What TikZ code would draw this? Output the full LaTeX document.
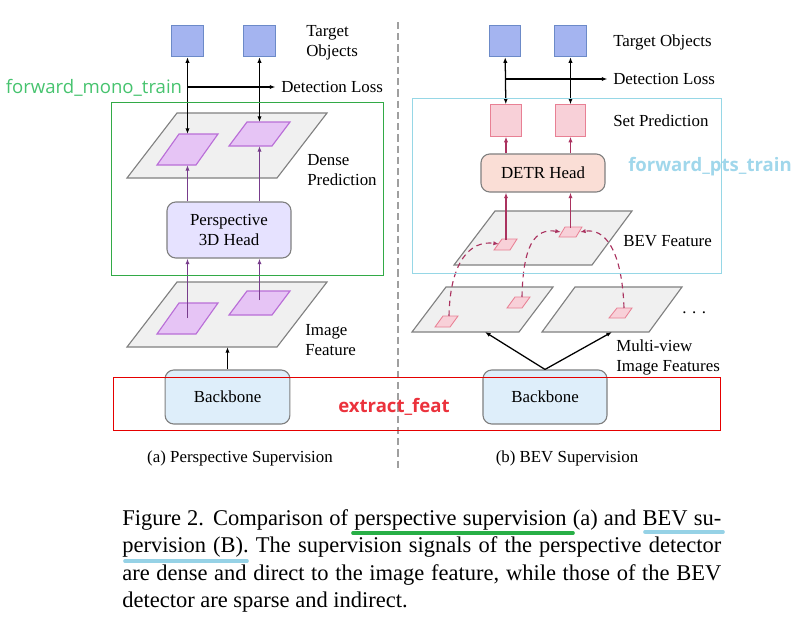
\documentclass[tikz,border=0pt]{standalone}
\usepackage{fontspec}
\setmainfont{Liberation Serif}
\newfontfamily\tagsans{Open Sans}
\usetikzlibrary{arrows.meta,positioning}

\definecolor{tgtfill}{RGB}{164,180,240}
\definecolor{tgtdraw}{RGB}{108,138,200}
\definecolor{planefill}{RGB}{240,240,240}
\definecolor{planedraw}{RGB}{128,128,128}
\definecolor{purfill}{RGB}{230,196,245}
\definecolor{purdraw}{RGB}{185,110,215}
\definecolor{purline}{RGB}{120,60,140}
\definecolor{headfill}{RGB}{230,226,255}
\definecolor{bonefill}{RGB}{222,238,250}
\definecolor{pinkfill}{RGB}{248,208,216}
\definecolor{pinkdraw}{RGB}{232,128,148}
\definecolor{pinkline}{RGB}{170,50,95}
\definecolor{detrfill}{RGB}{250,222,214}
\definecolor{monogreen}{RGB}{70,195,110}
\definecolor{boxgreen}{RGB}{50,170,70}
\definecolor{ptscyan}{RGB}{160,215,235}
\definecolor{boxcyan}{RGB}{150,215,230}
\definecolor{featred}{RGB}{235,50,60}
\definecolor{ulgreen}{RGB}{40,175,70}
\definecolor{ulblue}{RGB}{150,210,230}

\begin{document}
\begin{tikzpicture}[x=0.025cm, y=-0.025cm,
 >={Latex[length=4pt,width=3pt]},
 target/.style = {rectangle, draw=tgtdraw, fill=tgtfill, line width=0.8pt,
   minimum width=0.78cm, minimum height=0.78cm, inner sep=0pt},
 setpred/.style = {target, draw=pinkdraw, fill=pinkfill, minimum width=0.76cm},
 block/.style = {rectangle, rounded corners=0.22cm, draw=planedraw, line width=0.8pt,
   align=center, font=\fontsize{12}{14.2}\selectfont},
 lbl/.style = {anchor=west, align=left, inner sep=0pt, font=\fontsize{12}{14.2}\selectfont},
 plane/.style = {draw=planedraw, fill=planefill, line width=0.8pt},
 cell/.style = {draw=purdraw, fill=purfill, line width=0.8pt},
 bevcell/.style = {draw=pinkdraw, fill=pinkfill, line width=0.6pt},
 suparrow/.style = {<->, line width=0.9pt},
 lossarrow/.style = {->, line width=0.9pt, shorten >=4pt},
 purarrow/.style = {->, draw=purline, line width=0.8pt},
 pinkarrow/.style = {->, draw=pinkline, line width=0.8pt},
 viewlink/.style = {->, draw=pinkline, line width=0.8pt, dashed, dash pattern=on 4pt off 3pt},
 tagtext/.style = {inner sep=0pt, font=\tagsans\fontsize{13.2}{15}\selectfont},
 boldtag/.style = {tagtext, font=\tagsans\bfseries\fontsize{13.2}{15}\selectfont},
 capline/.style = {anchor=base west, inner sep=0pt, font=\fontsize{16}{19}\selectfont},
 underline/.style = {line width=2.6pt, line cap=round}]
\useasboundingbox (0,0) rectangle (798,618);

% (a) perspective supervision
\node[target] (tgtA) at (187.5,41) {};
\node[target] (tgtB) at (259.5,41) {};
\node[lbl] (tgtlblA) at (306,43) {Target\\Objects};

\draw[plane] (177,113) -- (327,113) -- (277,178) -- (127,178) -- cycle;
\draw[cell] (179,134) -- (218,134) -- (196,165) -- (157,165) -- cycle;
\draw[cell] (247,122) -- (290,122) -- (272,146) -- (229,146) -- cycle;
\coordinate (dnsAt) at (187.5,134);
\coordinate (dnsAb) at (187.5,165);
\coordinate (dnsBt) at (259.5,122);
\coordinate (dnsBb) at (259.5,146);
\node[lbl] (denselbl) at (307,170) {Dense\\Prediction};

\draw[plane] (177,282) -- (327,282) -- (277,347) -- (127,347) -- cycle;
\draw[cell] (179,303) -- (218,303) -- (196,334) -- (157,334) -- cycle;
\draw[cell] (247,291) -- (290,291) -- (272,315) -- (229,315) -- cycle;
\coordinate (imgA) at (187.5,318);
\coordinate (imgB) at (259.5,300);
\coordinate (imgbot) at (227.5,347);
\node[lbl] (imglbl) at (305,340) {Image\\Feature};

\node[block, fill=headfill, minimum width=3.1cm, minimum height=1.4cm] (head) at (229,230) {Perspective\\3D Head};
\node[block, fill=bonefill, minimum width=3.12cm, minimum height=1.35cm] (boneA) at (227.5,397) {Backbone};

\draw[purarrow] (imgA) -- (imgA |- head.south);
\draw[purarrow] (imgB) -- (imgB |- head.south);
\draw[purarrow] (head.north -| dnsAb) -- (dnsAb);
\draw[purarrow] (head.north -| dnsBb) -- (dnsBb);
\draw[suparrow] (dnsAt) -- (tgtA);
\draw[suparrow] (dnsBt) -- (tgtB);
\coordinate (lossA) at (187.5,87);
\node[lbl] (losslblA) at (281,87) {Detection Loss};
\draw[lossarrow] (lossA) -- (losslblA.west);
\draw[->, line width=0.9pt] (boneA) -- (imgbot);

\draw[boxgreen, line width=0.7pt] (111,102) rectangle (383,275);
\node[tagtext, text=monogreen] (monotag) at (94,88) {forward\_mono\_train};

% (b) BEV supervision
\node[target] (tgtC) at (505,41) {};
\node[target] (tgtD) at (570.5,41) {};
\node[lbl] (tgtlblB) at (613,42) {Target Objects};
\node[setpred] (predA) at (506,120.5) {};
\node[setpred] (predB) at (570.5,120.5) {};
\node[lbl] (predlbl) at (613,121) {Set Prediction};
\node[block, fill=detrfill, minimum width=3.1cm, minimum height=0.95cm] (detr) at (543,173) {DETR Head};

\draw[plane] (495,211) -- (632,211) -- (592,265) -- (454,265) -- cycle;
\draw[bevcell] (502,239) -- (517,239) -- (510,250) -- (494,250) -- cycle;
\draw[bevcell] (565,227) -- (582,227) -- (576,237) -- (559,237) -- cycle;
\coordinate (bevA) at (506,240);
\coordinate (bevB) at (570.5,228);
\coordinate (bevAin) at (499,244);
\coordinate (bevBinl) at (561,232);
\coordinate (bevBinr) at (580,232);
\node[lbl] (bevlbl) at (623,241) {BEV Feature};

\draw[plane] (446,287) -- (553,287) -- (519,332) -- (412,332) -- cycle;
\draw[plane] (575,287) -- (682,287) -- (649,332) -- (542,332) -- cycle;
\draw[bevcell] (443,316) -- (458,316) -- (450,327) -- (435,327) -- cycle;
\draw[bevcell] (515,297) -- (530,297) -- (522,308) -- (507,308) -- cycle;
\draw[bevcell] (617,308) -- (632,308) -- (625,318) -- (609,318) -- cycle;
\coordinate (viewA) at (449,316);
\coordinate (viewB) at (522,297);
\coordinate (viewC) at (624,308);
\coordinate (viewAbot) at (485,332);
\coordinate (viewCbot) at (612,332);
\node[lbl] (dotslbl) at (682,313) {.\,\,.\,\,.};
\node[lbl] (viewlbl) at (616,357) {Multi-view\\Image Features};

\node[block, fill=bonefill, minimum width=3.1cm, minimum height=1.35cm] (boneB) at (545,397) {Backbone};

\draw[->, line width=0.9pt] (boneB.north) -- (viewAbot);
\draw[->, line width=0.9pt] (boneB.north) -- (viewCbot);
\draw[viewlink] (viewA) .. controls (450,262) and (470,240) .. (bevAin);
\draw[viewlink] (viewB) .. controls (523,245) and (535,228) .. (bevBinl);
\draw[viewlink] (viewC) .. controls (622,250) and (605,228) .. (bevBinr);
\draw[pinkarrow] (bevA) -- (bevA |- detr.south);
\draw[pinkarrow] (bevB) -- (bevB |- detr.south);
\draw[pinkarrow] (detr.north -| predA) -- (predA);
\draw[pinkarrow] (detr.north -| predB) -- (predB);
\draw[suparrow] (predA) -- (tgtC);
\draw[suparrow] (predB) -- (tgtD);
\coordinate (lossB) at (505,79);
\node[lbl] (losslblB) at (613,79) {Detection Loss};
\draw[lossarrow] (lossB) -- (losslblB.west);

\draw[boxcyan, line width=0.7pt] (412,98) rectangle (721,273);
\node[boldtag, text=ptscyan] (ptstag) at (710,167) {forward\_pts\_train};

% shared parts
\draw[gray!75, line width=1.1pt, dash pattern=on 5pt off 3pt] (398,22) -- (398,470);
\draw[red!90!black, line width=0.7pt] (113,377) rectangle (720,430);
\node[boldtag, text=featred] (feattag) at (394,407) {extract\_feat};
\node[font=\fontsize{12}{14.2}\selectfont] (capA) at (240,458) {(a) Perspective Supervision};
\node[font=\fontsize{12}{14.2}\selectfont] (capB) at (567,458) {(b) BEV Supervision};

% caption
\node[capline] (cap1) at (122,525) {\makebox[14.97cm][s]{Figure 2. Comparison of perspective supervision (a) and BEV su-}};
\node[capline] (cap2) at (122,552.5) {\makebox[14.97cm][s]{pervision (B). The supervision signals of the perspective detector}};
\node[capline] (cap3) at (122,580) {\makebox[14.97cm][s]{are dense and direct to the image feature, while those of the BEV}};
\node[capline] (cap4) at (122,607.5) {detector are sparse and indirect.};
\draw[ulgreen, underline] (353,533) -- (573,533);
\draw[ulblue, underline] (645,532) -- (723,532);
\draw[ulblue, underline] (125,561) -- (247,561);
\end{tikzpicture}
\end{document}
